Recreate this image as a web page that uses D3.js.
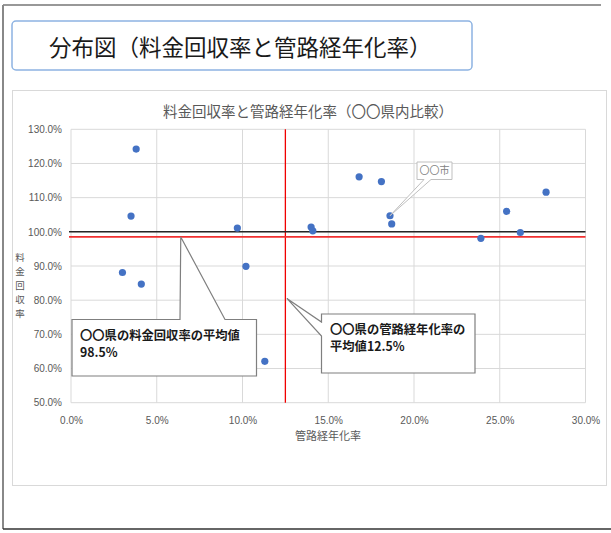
<!DOCTYPE html>
<html>
<head>
<meta charset="utf-8">
<script src="https://cdn.jsdelivr.net/npm/d3@7"></script>
<style>
  body { margin: 0; background: #fff; }
  svg { display: block; font-family: "Noto Sans CJK JP", "Noto Sans", sans-serif; }
</style>
</head>
<body>
<div id="chart"></div>
<script>
// data (percent values)
const agingRate = [3.8, 3.5, 9.7, 10.2, 3.0, 4.1, 11.3, 14.0, 14.1, 16.8, 18.1, 18.6, 18.7, 23.9, 25.4, 26.2, 27.7];
const collectionRate = [124.2, 104.6, 101.1, 89.9, 88.1, 84.7, 62.1, 101.4, 100.3, 116.1, 114.7, 104.7, 102.3, 98.1, 106.0, 99.8, 111.6];
const xTicks = [0, 5, 10, 15, 20, 25, 30];
const yTicks = [50, 60, 70, 80, 90, 100, 110, 120, 130];
const avgAging = 12.5;
const avgCollection = 98.5;
const reference = 100;
const cityIndex = 11; // "〇〇市"

const width = 611, height = 533;

const svg = d3.select("#chart")
    .append("svg")
    .attr("width", width)
    .attr("height", height);

// outer frame of the slide
svg.append("line").attr("x1", 3).attr("x2", 601).attr("y1", 5).attr("y2", 5)
    .attr("stroke", "#333").attr("stroke-width", 1.2);
svg.append("line").attr("x1", 3).attr("x2", 3).attr("y1", 5).attr("y2", 529)
    .attr("stroke", "#888").attr("stroke-width", 2);
svg.append("line").attr("x1", 3).attr("x2", 611).attr("y1", 529).attr("y2", 529)
    .attr("stroke", "#333").attr("stroke-width", 1.5);

// slide title box
svg.append("rect")
    .attr("x", 12).attr("y", 21).attr("width", 460).attr("height", 49)
    .attr("rx", 4)
    .attr("fill", "#fff")
    .attr("stroke", "#8db3e2")
    .attr("stroke-width", 1.5);
svg.append("text")
    .attr("x", 49).attr("y", 50)
    .attr("dominant-baseline", "middle")
    .style("font-size", "22.5px")
    .attr("fill", "#1a1a1a")
    .text("分布図（料金回収率と管路経年化率）");

// chart container
svg.append("rect")
    .attr("x", 12.5).attr("y", 90.5).attr("width", 594).attr("height", 395)
    .attr("fill", "#fff")
    .attr("stroke", "#d9d9d9");

// scales
const x = d3.scaleLinear().domain([0, 30]).range([71, 585.5]);
const y = d3.scaleLinear().domain([50, 130]).range([402.7, 129.3]);

// gridlines
svg.append("g").selectAll("line")
    .data(xTicks).enter().append("line")
    .attr("x1", d => x(d)).attr("x2", d => x(d))
    .attr("y1", y(130)).attr("y2", y(50))
    .attr("stroke", "#d9d9d9");
svg.append("g").selectAll("line")
    .data(yTicks).enter().append("line")
    .attr("x1", x(0)).attr("x2", x(30))
    .attr("y1", d => y(d)).attr("y2", d => y(d))
    .attr("stroke", "#d9d9d9");

// axes (labels only)
const xAxis = svg.append("g")
    .attr("transform", `translate(0,${y(50)})`)
    .call(d3.axisBottom(x).tickValues(xTicks).tickSize(0).tickPadding(14)
        .tickFormat(d => d.toFixed(1) + "%"));
const yAxis = svg.append("g")
    .attr("transform", `translate(${x(0)},0)`)
    .call(d3.axisLeft(y).tickValues(yTicks).tickSize(0).tickPadding(9)
        .tickFormat(d => d.toFixed(1) + "%"));
[xAxis, yAxis].forEach(g => {
    g.select(".domain").remove();
    g.selectAll("text")
        .attr("fill", "#595959")
        .style("font-size", "10px")
        .style("font-family", "'Liberation Sans', 'Noto Sans', sans-serif");
});

// chart title
svg.append("text")
    .attr("x", 308).attr("y", 113)
    .attr("text-anchor", "middle")
    .attr("dominant-baseline", "middle")
    .attr("fill", "#595959")
    .style("font-size", "14.5px")
    .text("料金回収率と管路経年化率（〇〇県内比較）");

// axis titles
svg.append("text")
    .attr("x", 328).attr("y", 437)
    .attr("text-anchor", "middle")
    .attr("dominant-baseline", "middle")
    .attr("fill", "#595959")
    .style("font-size", "11px")
    .text("管路経年化率");
// vertical y title, one character per text
svg.append("g").selectAll("text")
    .data("料金回収率".split(""))
    .enter().append("text")
    .attr("x", 20)
    .attr("y", (c, i) => 258 + i * 14)
    .attr("text-anchor", "middle")
    .attr("dominant-baseline", "middle")
    .attr("fill", "#595959")
    .style("font-size", "9.5px")
    .text(c => c);

// reference lines
svg.append("line")
    .attr("x1", x(avgAging)).attr("x2", x(avgAging))
    .attr("y1", y(130)).attr("y2", y(50))
    .attr("stroke", "#f00000").attr("stroke-width", 1.3);
svg.append("line")
    .attr("x1", x(0) - 2).attr("x2", x(30))
    .attr("y1", y(reference)).attr("y2", y(reference))
    .attr("stroke", "#262626").attr("stroke-width", 1.5);
svg.append("line")
    .attr("x1", x(0) - 2).attr("x2", x(30))
    .attr("y1", y(avgCollection)).attr("y2", y(avgCollection))
    .attr("stroke", "#f03030").attr("stroke-width", 1.8);

// points
const points = agingRate.map((v, i) => ({ x: v, y: collectionRate[i] }));
svg.append("g").selectAll("circle")
    .data(points).enter().append("circle")
    .attr("cx", d => x(d.x))
    .attr("cy", d => y(d.y))
    .attr("r", 3.6)
    .attr("fill", "#4472c4");

// callout for 〇〇市
const city = points[cityIndex];
const cx = x(city.x), cy = y(city.y);
svg.append("path")
    .attr("d", `M417,162 L452,162 L452,179.5 L431,179.5 L${cx},${cy} L424,179.5 L417,179.5 Z`)
    .attr("fill", "#fff")
    .attr("stroke", "#bfbfbf")
    .attr("stroke-width", 1);
svg.append("text")
    .attr("x", 434.5).attr("y", 171)
    .attr("text-anchor", "middle")
    .attr("dominant-baseline", "middle")
    .attr("fill", "#7f7f7f")
    .style("font-size", "10px")
    .text("〇〇市");

// callout: average collection rate
const tip1x = x(6.4), tip1y = y(avgCollection);
svg.append("path")
    .attr("d", `M72,319.5 L180,319.5 L${tip1x},${tip1y} L225,319.5 L256.5,319.5 L256.5,376 L72,376 Z`)
    .attr("fill", "#fff")
    .attr("stroke", "#7f7f7f")
    .attr("stroke-width", 1.2);
const t1 = svg.append("text")
    .attr("fill", "#1a1a1a")
    .style("font-size", "12.3px")
    .style("font-weight", "bold");
t1.append("tspan").attr("x", 80).attr("y", 339.5).text("〇〇県の料金回収率の平均値");
t1.append("tspan").attr("x", 80).attr("y", 357).text(avgCollection.toFixed(1) + "%");

// callout: average aging rate
const tip2x = x(avgAging) + 1.5, tip2y = y(80.5);
svg.append("path")
    .attr("d", `M321.5,314 L475,314 L475,373 L321.5,373 L321.5,336 L${tip2x},${tip2y} L321.5,322 Z`)
    .attr("fill", "#fff")
    .attr("stroke", "#7f7f7f")
    .attr("stroke-width", 1.2);
const t2 = svg.append("text")
    .attr("fill", "#1a1a1a")
    .style("font-size", "12.3px")
    .style("font-weight", "bold");
t2.append("tspan").attr("x", 330).attr("y", 333.5).text("〇〇県の管路経年化率の");
t2.append("tspan").attr("x", 330).attr("y", 351).text("平均値" + avgAging.toFixed(1) + "%");
</script>
</body>
</html>
